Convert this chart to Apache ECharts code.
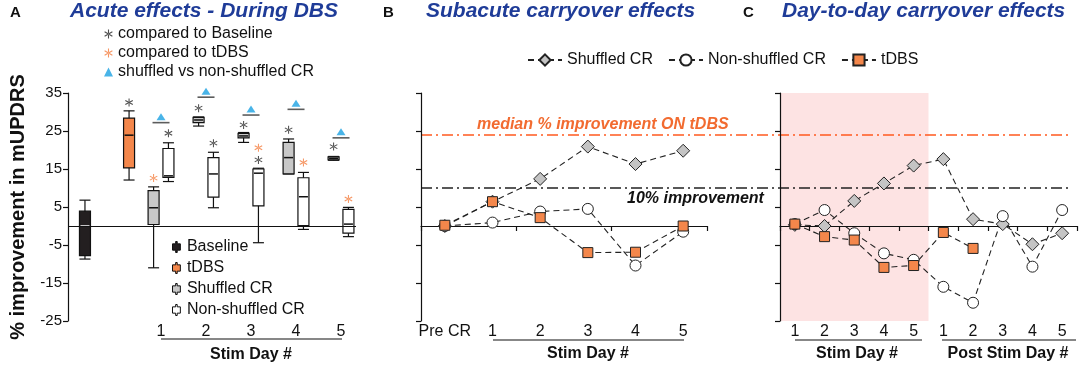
<!DOCTYPE html>
<html>
<head>
<meta charset="utf-8">
<script src="https://cdn.jsdelivr.net/npm/echarts@6/dist/echarts.min.js"></script>
<style>
  html, body { margin: 0; padding: 0; background: #fff; }
  #chart { width: 1084px; height: 367px; }
</style>
</head>
<body>
<div id="chart"></div>
<script>
// ---- panel A: box stats [min, q1, median, q3, max] ----
const baselineBox = [-8.7, -7.8, 0, 3.9, 6.8]
const tdbsBox = [12.1, 15.3, 23.9, 28.4, 30.3]
const shuffledBoxes = [
  [-11, 0.4, 4.8, 9.3, 10.3],
  [26.3, 27.2, 27.9, 28.6, 28.7],
  [22, 23.2, 23.7, 24.4, 24.6],
  [13.7, 13.7, 18, 22, 22.9],
  [17.3, 17.4, 17.8, 18.2, 18.3]
]
const nonShuffledBoxes = [
  [11.7, 12.8, 13.2, 20.4, 21.9],
  [4.8, 7.6, 13.7, 18, 19.4],
  [-4.4, 5.3, 13.9, 15, 15.2],
  [-0.9, 0.1, 7.7, 12.7, 14.1],
  [-2.8, -1.9, 0.5, 4.4, 4.9]
]
const dayLabels = [1, 2, 3, 4, 5]
const yTicks = [-25, -15, -5, 5, 15, 25, 35]

// significance marks: [box key, y]
const starsVsBaseline = [['T', 32.5], ['N1', 24.4], ['S2', 31], ['N2', 21.8], ['S3', 26.6], ['N3', 17.4], ['S4', 25.3], ['S5', 20.9]]
const starsVsTDBS = [['S1', 12.6], ['N3', 20.6], ['N4', 16.7], ['N5', 7.1]]
const shuffleBars = [[1, 27.2], [2, 33.9], [3, 29.2], [4, 30.7], [5, 23.2]]

// ---- panel B: subacute ----
const bCats = ['Pre CR', '1', '2', '3', '4', '5']
const bShuffled = [0, 6.4, 12.4, 20.9, 16.3, 19.8]
const bNonShuffled = [0, 0.9, 3.8, 4.5, -10.4, -1.5]
const bTDBS = [0.2, 6.4, 2.2, -7, -6.9, 0]

// ---- panel C: day-to-day ----
const cCats = ['1', '2', '3', '4', '5', '1', '2', '3', '4', '5']
const cShuffled = [0.3, 0, 6.6, 11.2, 15.9, 17.6, 1.8, 0.5, -4.8, -1.9]
const cNonShuffled = [0.5, 4.2, -1.9, -7.2, -8.9, -16, -20.2, 2.6, -10.7, 4.2]
const cTDBS = [0.5, -2.8, -3.7, -10.9, -10.4, -1.7, -5.9, null, null, null]
const stimRange = [0, 5]

// reference lines
const medianTDBS = 23.9
const tenPercent = 10

const FONT = "'Liberation Sans', Arial, Helvetica, sans-serif"
const BLUE = '#1f3c98'
const ORANGE = '#f4874b'
const asterisk = 'path://M4.4,0H5.6V10H4.4Z M0.97,8.02L9.63,3.02L9.03,1.98L0.37,6.98Z M0.37,3.02L9.03,8.02L9.63,6.98L0.97,1.98Z'
const boxIcon = 'path://M5,0H7V3H11V11H7V14H5V11H1V3H5Z'

// x slot of each box in panel A
function slotX (key) {
  if (key === 'B') return -0.69
  if (key === 'T') return 0.29
  const d = Number(key.slice(1))
  return key[0] === 'S' ? d - 0.165 : d + 0.165
}

function boxSeries (name, rows, fill, medianColor) {
  return {
    type: 'custom',
    name: name,
    xAxisIndex: 0,
    yAxisIndex: 0,
    silent: true,
    itemStyle: { color: fill, borderColor: '#111', borderWidth: 1 },
    data: rows,
    encode: { x: 0, y: [1, 2, 3, 4, 5] },
    renderItem: function (params, api) {
      const x = api.value(0)
      const lo = api.coord([x, api.value(1)])
      const q1 = api.coord([x, api.value(2)])
      const md = api.coord([x, api.value(3)])
      const q3 = api.coord([x, api.value(4)])
      const hi = api.coord([x, api.value(5)])
      const cx = lo[0]
      const hw = 5.5
      const st = { stroke: '#111', lineWidth: 1.2 }
      return {
        type: 'group',
        children: [
          { type: 'line', shape: { x1: cx, y1: hi[1], x2: cx, y2: lo[1] }, style: st },
          { type: 'line', shape: { x1: cx - hw, y1: hi[1], x2: cx + hw, y2: hi[1] }, style: st },
          { type: 'line', shape: { x1: cx - hw, y1: lo[1], x2: cx + hw, y2: lo[1] }, style: st },
          { type: 'rect', shape: { x: cx - hw, y: q3[1], width: hw * 2, height: q1[1] - q3[1] }, style: { fill: fill, stroke: '#111', lineWidth: 1.2 } },
          { type: 'line', shape: { x1: cx - hw + 1, y1: md[1], x2: cx + hw - 1, y2: md[1] }, style: { stroke: medianColor, lineWidth: 1.5 } }
        ]
      }
    }
  }
}

function lineSeries (name, data, xi, yi, symbol, size, fill) {
  return {
    type: 'line',
    name: name,
    xAxisIndex: xi,
    yAxisIndex: yi,
    data: data,
    z: 10,
    silent: true,
    connectNulls: false,
    symbol: symbol,
    symbolSize: size,
    showAllSymbol: true,
    itemStyle: { color: fill, borderColor: '#222', borderWidth: 1 },
    lineStyle: { color: '#222', width: 1.1, type: [6, 4] }
  }
}

const dashDot = [11, 4, 2, 4]
const axisLineStyle = { color: '#111', width: 1.2 }

const option = {
  animation: false,
  textStyle: { fontFamily: FONT, color: '#111' },
  title: [
    { text: 'A', left: 10, top: 5, padding: 0, textStyle: { fontSize: 15, fontWeight: 'bold', color: '#111', fontFamily: FONT } },
    { text: 'Acute effects - During DBS', left: 70, top: 1, padding: 0, textStyle: { fontSize: 21, fontWeight: 'bold', fontStyle: 'italic', color: BLUE, fontFamily: FONT } },
    { text: 'B', left: 383, top: 5, padding: 0, textStyle: { fontSize: 15, fontWeight: 'bold', color: '#111', fontFamily: FONT } },
    { text: 'Subacute carryover effects', left: 426, top: 1, padding: 0, textStyle: { fontSize: 21, fontWeight: 'bold', fontStyle: 'italic', color: BLUE, fontFamily: FONT } },
    { text: 'C', left: 743, top: 5, padding: 0, textStyle: { fontSize: 15, fontWeight: 'bold', color: '#111', fontFamily: FONT } },
    { text: 'Day-to-day carryover effects', left: 782, top: 1, padding: 0, textStyle: { fontSize: 21, fontWeight: 'bold', fontStyle: 'italic', color: BLUE, fontFamily: FONT } }
  ],
  legend: [
    {
      left: 104,
      top: 26,
      orient: 'vertical',
      itemWidth: 9,
      itemHeight: 9,
      itemGap: 3,
      padding: 0,
      selectedMode: false,
      textStyle: { fontSize: 16, color: '#111', fontFamily: FONT },
      data: ['compared to Baseline', 'compared to tDBS', 'shuffled vs non-shuffled CR']
    },
    {
      left: 172,
      top: 239,
      orient: 'vertical',
      itemWidth: 11,
      itemHeight: 11,
      itemGap: 5,
      padding: 0,
      selectedMode: false,
      textStyle: { fontSize: 16, color: '#111', fontFamily: FONT },
      formatter: function (name) { return name.replace(' (box)', '') },
      data: [
        { name: 'Baseline', icon: boxIcon, itemStyle: { color: '#231f20', borderColor: '#111', borderWidth: 1 } },
        { name: 'tDBS (box)', icon: boxIcon, itemStyle: { color: ORANGE, borderColor: '#111', borderWidth: 1 } },
        { name: 'Shuffled CR (box)', icon: boxIcon, itemStyle: { color: '#c8c8c8', borderColor: '#111', borderWidth: 1 } },
        { name: 'Non-shuffled CR (box)', icon: boxIcon, itemStyle: { color: '#fff', borderColor: '#111', borderWidth: 1 } }
      ]
    },
    {
      left: 527,
      top: 52,
      itemWidth: 34,
      itemHeight: 14,
      itemGap: 15,
      padding: 0,
      selectedMode: false,
      textStyle: { fontSize: 16, color: '#111', fontFamily: FONT },
      data: ['Shuffled CR', 'Non-shuffled CR', 'tDBS']
    }
  ],
  grid: [
    { left: 68, top: 93, width: 288, height: 228 },
    { left: 421, top: 93, width: 286, height: 228 },
    { left: 780, top: 93, width: 297, height: 228 },
    { left: 421, top: 93, width: 651, height: 228 }
  ],
  xAxis: [
    {
      type: 'value', gridIndex: 0, min: -1.067, max: 5.333,
      axisLine: { show: false }, axisTick: { show: false }, splitLine: { show: false },
      axisLabel: { customValues: dayLabels, fontSize: 16, color: '#111', margin: 3, fontFamily: FONT }
    },
    {
      type: 'category', gridIndex: 1, data: bCats, z: 5,
      axisLine: { onZero: true, lineStyle: axisLineStyle },
      axisTick: { show: true, length: 5, lineStyle: axisLineStyle },
      axisLabel: { show: false }
    },
    {
      type: 'category', gridIndex: 1, data: bCats, position: 'bottom',
      axisLine: { show: false, onZero: false }, axisTick: { show: false },
      axisLabel: { interval: 0, fontSize: 16, color: '#111', margin: 3, fontFamily: FONT }
    },
    {
      type: 'category', gridIndex: 2, data: cCats, z: 5,
      axisLine: { onZero: true, lineStyle: axisLineStyle },
      axisTick: { show: true, length: 5, lineStyle: axisLineStyle },
      axisLabel: { show: false }
    },
    {
      type: 'category', gridIndex: 2, data: cCats, position: 'bottom',
      axisLine: { show: false, onZero: false }, axisTick: { show: false },
      axisLabel: { interval: 0, fontSize: 16, color: '#111', margin: 3, fontFamily: FONT }
    },
    { type: 'value', gridIndex: 2, min: 0, max: 10, show: false },
    { type: 'value', gridIndex: 3, min: 0, max: 1, show: false }
  ],
  yAxis: [
    {
      type: 'value', gridIndex: 0, min: -25, max: 35, z: 5,
      axisLine: { show: true, onZero: false, lineStyle: axisLineStyle },
      axisTick: { show: true, length: 5, customValues: yTicks, lineStyle: axisLineStyle },
      axisLabel: { customValues: yTicks, fontSize: 15, color: '#111', margin: 6, fontFamily: FONT },
      splitLine: { show: false },
      name: '% improvement in mUPDRS',
      nameLocation: 'middle',
      nameGap: 40,
      nameTextStyle: { fontSize: 20, fontWeight: 'bold', color: '#111', fontFamily: FONT }
    },
    {
      type: 'value', gridIndex: 1, min: -25, max: 35, z: 5,
      axisLine: { show: true, onZero: false, lineStyle: axisLineStyle },
      axisTick: { show: true, length: 5, customValues: yTicks, lineStyle: axisLineStyle },
      axisLabel: { show: false },
      splitLine: { show: false }
    },
    {
      type: 'value', gridIndex: 2, min: -25, max: 35, z: 5,
      axisLine: { show: true, onZero: false, lineStyle: axisLineStyle },
      axisTick: { show: true, length: 5, customValues: yTicks, lineStyle: axisLineStyle },
      axisLabel: { show: false },
      splitLine: { show: false }
    },
    { type: 'value', gridIndex: 3, min: -25, max: 35, show: false }
  ],
  series: [
    // reference lines spanning B and C
    {
      type: 'line', name: 'refLines', xAxisIndex: 6, yAxisIndex: 3, data: [], silent: true,
      markLine: {
        silent: true,
        symbol: 'none',
        data: [
          {
            yAxis: medianTDBS,
            lineStyle: { color: '#ff5a1f', width: 1.5, type: dashDot },
            label: { show: true, position: 'insideStartTop', distance: [56, 3], formatter: 'median % improvement ON tDBS', color: '#f26b30', fontSize: 16, fontWeight: 'bold', fontStyle: 'italic', fontFamily: FONT }
          },
          {
            yAxis: tenPercent,
            lineStyle: { color: '#222', width: 1.5, type: dashDot },
            label: { show: true, position: 'insideStartBottom', distance: [206, 3], formatter: '10% improvement', color: '#111', fontSize: 16, fontWeight: 'bold', fontStyle: 'italic', fontFamily: FONT }
          }
        ]
      }
    },
    // pink stim-day shading in C
    {
      type: 'line', name: 'stimShade', xAxisIndex: 5, yAxisIndex: 2, data: [], silent: true,
      markArea: {
        silent: true,
        itemStyle: { color: '#fde3e3' },
        data: [[{ xAxis: stimRange[0] }, { xAxis: stimRange[1] }]]
      }
    },
    // panel A boxes
    boxSeries('Baseline', [[slotX('B')].concat(baselineBox)], '#231f20', '#fff'),
    boxSeries('tDBS (box)', [[slotX('T')].concat(tdbsBox)], ORANGE, '#111'),
    boxSeries('Shuffled CR (box)', shuffledBoxes.map((b, i) => [slotX('S' + (i + 1))].concat(b)), '#c8c8c8', '#111'),
    boxSeries('Non-shuffled CR (box)', nonShuffledBoxes.map((b, i) => [slotX('N' + (i + 1))].concat(b)), '#fff', '#111'),
    {
      type: 'scatter', name: 'sigBars', xAxisIndex: 0, yAxisIndex: 0, silent: true, clip: false,
      symbol: 'rect', symbolSize: [17, 1.6],
      itemStyle: { color: '#333' },
      data: shuffleBars,
      markLine: {
        silent: true, symbol: 'none', label: { show: false },
        lineStyle: { color: '#111', width: 1.2, type: 'solid' },
        data: [{ yAxis: 0 }]
      }
    },
    {
      type: 'scatter', name: 'compared to Baseline', xAxisIndex: 0, yAxisIndex: 0, silent: true, clip: false,
      symbol: asterisk, symbolSize: 8, itemStyle: { color: '#222' },
      data: starsVsBaseline.map(s => [slotX(s[0]), s[1]])
    },
    {
      type: 'scatter', name: 'compared to tDBS', xAxisIndex: 0, yAxisIndex: 0, silent: true, clip: false,
      symbol: asterisk, symbolSize: 8, itemStyle: { color: '#f47c3c' },
      data: starsVsTDBS.map(s => [slotX(s[0]), s[1]])
    },
    {
      type: 'scatter', name: 'shuffled vs non-shuffled CR', xAxisIndex: 0, yAxisIndex: 0, silent: true, clip: false,
      symbol: 'triangle', symbolSize: [9, 7], symbolOffset: [0, -6], itemStyle: { color: '#1ba1e2' },
      data: shuffleBars
    },
    // panel B
    lineSeries('Shuffled CR', bShuffled, 1, 1, 'diamond', 13, '#c4c4c4'),
    lineSeries('Non-shuffled CR', bNonShuffled, 1, 1, 'circle', 11, '#fff'),
    lineSeries('tDBS', bTDBS, 1, 1, 'rect', 10, ORANGE),
    // panel C
    lineSeries('Shuffled CR', cShuffled, 3, 2, 'diamond', 13, '#c4c4c4'),
    lineSeries('Non-shuffled CR', cNonShuffled, 3, 2, 'circle', 11, '#fff'),
    lineSeries('tDBS', cTDBS, 3, 2, 'rect', 10, ORANGE)
  ],
  graphic: [
    { type: 'line', shape: { x1: 161, y1: 339, x2: 342, y2: 339 }, style: { stroke: '#111', lineWidth: 1.2 } },
    { type: 'text', x: 251, y: 355, style: { text: 'Stim Day #', font: 'bold 16px ' + FONT, fill: '#111', textAlign: 'center', textVerticalAlign: 'middle' } },
    { type: 'line', shape: { x1: 493, y1: 340, x2: 684, y2: 340 }, style: { stroke: '#111', lineWidth: 1.2 } },
    { type: 'text', x: 588, y: 354, style: { text: 'Stim Day #', font: 'bold 16px ' + FONT, fill: '#111', textAlign: 'center', textVerticalAlign: 'middle' } },
    { type: 'line', shape: { x1: 795, y1: 340, x2: 922, y2: 340 }, style: { stroke: '#111', lineWidth: 1.2 } },
    { type: 'text', x: 857, y: 354, style: { text: 'Stim Day #', font: 'bold 16px ' + FONT, fill: '#111', textAlign: 'center', textVerticalAlign: 'middle' } },
    { type: 'line', shape: { x1: 942, y1: 340, x2: 1076, y2: 340 }, style: { stroke: '#111', lineWidth: 1.2 } },
    { type: 'text', x: 1008, y: 354, style: { text: 'Post Stim Day #', font: 'bold 16px ' + FONT, fill: '#111', textAlign: 'center', textVerticalAlign: 'middle' } }
  ]
}

const chart = echarts.init(document.getElementById('chart'), null, { renderer: 'canvas' })
chart.setOption(option)
</script>
</body>
</html>
